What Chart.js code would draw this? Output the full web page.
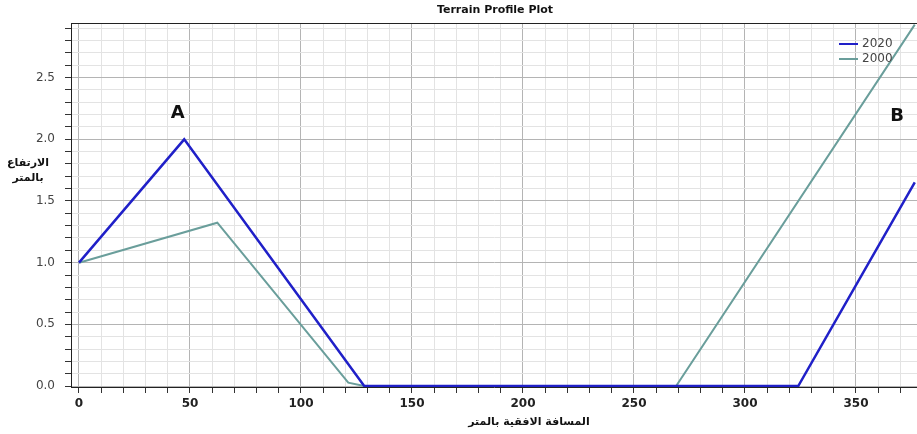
<!DOCTYPE html>
<html>
<head>
<meta charset="utf-8">
<script src="https://cdn.jsdelivr.net/npm/chart.js@4/dist/chart.umd.min.js"></script>
<style>
html,body{margin:0;padding:0;background:#fff;}
#wrap{width:917px;height:434px;}
</style>
</head>
<body>
<div id="wrap"><canvas id="c" width="917" height="434"></canvas></div>
<script>
// ---- data ----
const titleText = "Terrain Profile Plot";
const xTitle = "المسافة الافقية بالمتر";
const yTitleLines = ["الارتفاع", "بالمتر"];
const seriesNames = ["2020", "2000"];
const x2020 = [0, 47.4, 128.5, 324, 376.5];
const y2020 = [1.0, 2.0, 0.0, 0.0, 1.65];
const x2000 = [0, 62.3, 121.3, 128.5, 269, 376.5];
const y2000 = [1.0, 1.324, 0.027, 0.0, 0.0, 2.93];
const annotLabels = ["A", "B"];
const annotX = [44.5, 368.5];
const annotY = [2.21, 2.19];
const xMajorStep = 50, xMinorStep = 10;
const yMajorStep = 0.5, yMinorStep = 0.1;

const colors = ["#2020c8", "#6a9e9b"];

function pts(xs, ys){ return xs.map((x,i)=>({x:x, y:ys[i]})); }

const overlay = {
  id: 'overlay',
  afterDraw(chart){
    const ctx = chart.ctx, a = chart.chartArea;
    const xs = chart.scales.x, ys = chart.scales.y;
    ctx.save();
    // frame top
    ctx.strokeStyle = '#222'; ctx.lineWidth = 1;
    ctx.beginPath();
    ctx.moveTo(a.left, a.top+0.5); ctx.lineTo(a.right, a.top+0.5);
    ctx.stroke();
    // title
    ctx.fillStyle = '#111';
    ctx.font = 'bold 11px "DejaVu Sans"';
    ctx.textAlign = 'center'; ctx.textBaseline = 'middle';
    ctx.fillText(titleText, 495, 10);
    // y title
    ctx.fillText(yTitleLines[0], 28, 163);
    ctx.fillText(yTitleLines[1], 28, 178);
    // x title
    ctx.fillText(xTitle, 529, 422);
    // annotations
    ctx.font = 'bold 18px "DejaVu Sans"';
    annotLabels.forEach((t,i)=>{
      ctx.fillText(t, xs.getPixelForValue(annotX[i]), ys.getPixelForValue(annotY[i]));
    });
    // legend
    ctx.font = '12px "DejaVu Sans"';
    ctx.textAlign = 'left';
    chart.data.datasets.forEach((ds,i)=>{
      const y = 44 + i*15;
      ctx.strokeStyle = ds.borderColor; ctx.lineWidth = 2;
      ctx.beginPath(); ctx.moveTo(839, y); ctx.lineTo(858, y); ctx.stroke();
      ctx.fillStyle = '#444';
      ctx.fillText(ds.label, 862, y);
    });
    ctx.restore();
  }
};

function onStep(v, step){ const r = v/step; return Math.abs(r - Math.round(r)) < 1e-6; }
function stepTicks(lo, hi, step){
  const out = [];
  for (let k = Math.ceil(lo/step - 1e-9); k*step <= hi + 1e-9; k++) out.push({value: Math.round(k*step*1000)/1000});
  return out;
}

new Chart(document.getElementById('c'), {
  type: 'line',
  data: {
    datasets: [
      {label: seriesNames[0], data: pts(x2020, y2020), borderColor: colors[0], borderWidth: 2.5, pointRadius: 0, tension: 0, fill: false},
      {label: seriesNames[1], data: pts(x2000, y2000), borderColor: colors[1], borderWidth: 2, pointRadius: 0, tension: 0, fill: false}
    ]
  },
  options: {
    responsive: false,
    animation: false,
    layout: {padding: {top: 23, left: 0, right: 0, bottom: 0}},
    plugins: {legend: {display: false}, title: {display: false}, tooltip: {enabled: false}},
    scales: {
      x: {
        type: 'linear', min: -3.6, max: 377.5,
        ticks: {
          autoSkip: false, maxRotation: 0, padding: 4,
          color: '#222', font: {family: 'DejaVu Sans', size: 12, weight: 'bold'},
          callback: v => onStep(v, xMajorStep) ? String(Math.round(v)) : ''
        },
        afterBuildTicks: s => { s.ticks = stepTicks(0, s.max, xMinorStep); },
        afterFit: s => { s.height = 47; },
        grid: {
          color: c => (c.tick && onStep(c.tick.value, xMajorStep)) ? '#b4b4b4' : '#e3e3e3',
          tickColor: '#333', tickLength: 6, lineWidth: 1
        },
        border: {color: '#222', width: 1}
      },
      y: {
        type: 'linear', min: -0.008, max: 2.943,
        ticks: {
          autoSkip: false, padding: 10,
          color: '#444', font: {family: 'DejaVu Sans', size: 12},
          callback: v => onStep(v, yMajorStep) ? Number(v).toFixed(1) : ''
        },
        afterBuildTicks: s => { s.ticks = stepTicks(0, s.max, yMinorStep); },
        afterFit: s => { s.width = 71; },
        grid: {
          color: c => (c.tick && onStep(c.tick.value, yMajorStep)) ? '#b4b4b4' : '#e3e3e3',
          tickColor: '#333', tickLength: 6, lineWidth: 1
        },
        border: {color: '#222', width: 1}
      }
    }
  },
  plugins: [overlay]
});
</script>
</body>
</html>
